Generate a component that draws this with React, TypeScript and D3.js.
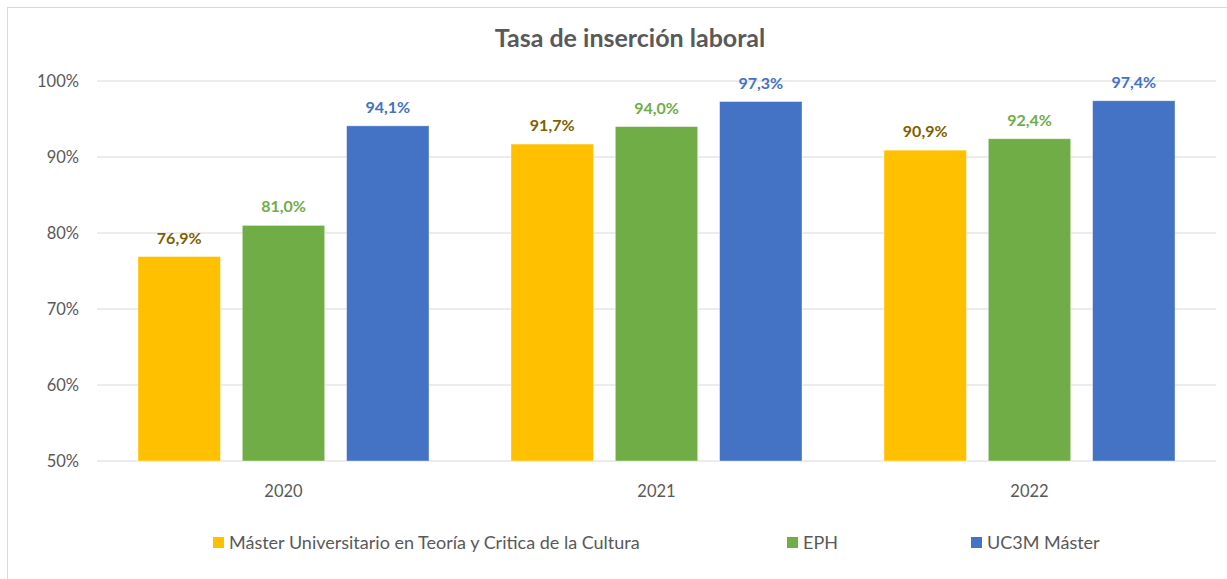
import React from 'react';
import * as d3 from 'd3';

const years = ['2020', '2021', '2022'];
const seriesNames = ['Máster Universitario en Teoría y Critica de la Cultura', 'EPH', 'UC3M Máster'];
const master = [76.9, 91.7, 90.9];
const eph = [81.0, 94.0, 92.4];
const uc3m = [94.1, 97.3, 97.4];
const yTicks = [50, 60, 70, 80, 90, 100];

const barColors = ['#FFC000', '#70AD47', '#4472C4'];
const labelColors = ['#7F6000', '#70AD47', '#4472C4'];

const W = 1227;
const H = 579;
const left = 97;
const right = 1216;
const top = 81;
const bottom = 461;
const font = 'Lato, "Open Sans", sans-serif';

export default function App() {
  const values = [master, eph, uc3m];
  const x = d3.scaleBand().domain(years).range([left, right]).padding(0);
  const xs = d3.scaleBand().domain(seriesNames).range([41, x.bandwidth() - 41]).paddingInner(0.21).paddingOuter(0);
  const y = d3.scaleLinear().domain([50, 100]).range([bottom, top]);
  const fmt = (v: number) => v.toFixed(1).replace('.', ',') + '%';
  const legendX = [213, 787, 971];

  return (
    <svg width={W} height={H} style={{ position: 'absolute', left: 0, top: 0, fontFamily: font }}>
      <rect x={7.5} y={7.5} width={W + 10} height={H + 10} fill="#fff" stroke="#D9D9D9" strokeWidth={1} />
      <text x={630} y={47} textAnchor="middle" fontSize={25} fontWeight="bold" fill="#595959">
        Tasa de inserción laboral
      </text>
      {yTicks.map(t => (
        <g key={t}>
          <line x1={left} x2={right} y1={y(t)} y2={y(t)} stroke="#D9D9D9" strokeWidth={1} />
          <text x={79} y={y(t)} dy="0.35em" textAnchor="end" fontSize={16.5} fill="#595959">{t}%</text>
        </g>
      ))}
      {years.map((yr, i) => (
        <g key={yr} transform={`translate(${x(yr)},0)`}>
          {seriesNames.map((s, j) => {
            const v = values[j][i];
            const bx = xs(s)!;
            return (
              <g key={s}>
                <rect x={bx} y={y(v)} width={xs.bandwidth()} height={bottom - y(v)} fill={barColors[j]} stroke="#fff" strokeOpacity={0.5} strokeWidth={0.75} />
                <text x={bx + xs.bandwidth() / 2} y={y(v) - 13} textAnchor="middle" fontSize={16} fontWeight="bold" fill={labelColors[j]}>
                  {fmt(v)}
                </text>
              </g>
            );
          })}
          <text x={x.bandwidth() / 2} y={491} dy="0.35em" textAnchor="middle" fontSize={16.5} fill="#595959">{yr}</text>
        </g>
      ))}
      {seriesNames.map((s, j) => (
        <g key={s} transform={`translate(${legendX[j]},542.5)`}>
          <rect x={0} y={-5.5} width={11} height={11} fill={barColors[j]} />
          <text x={16} y={0} dy="0.35em" fontSize={18} fill="#595959">{s}</text>
        </g>
      ))}
    </svg>
  );
}
